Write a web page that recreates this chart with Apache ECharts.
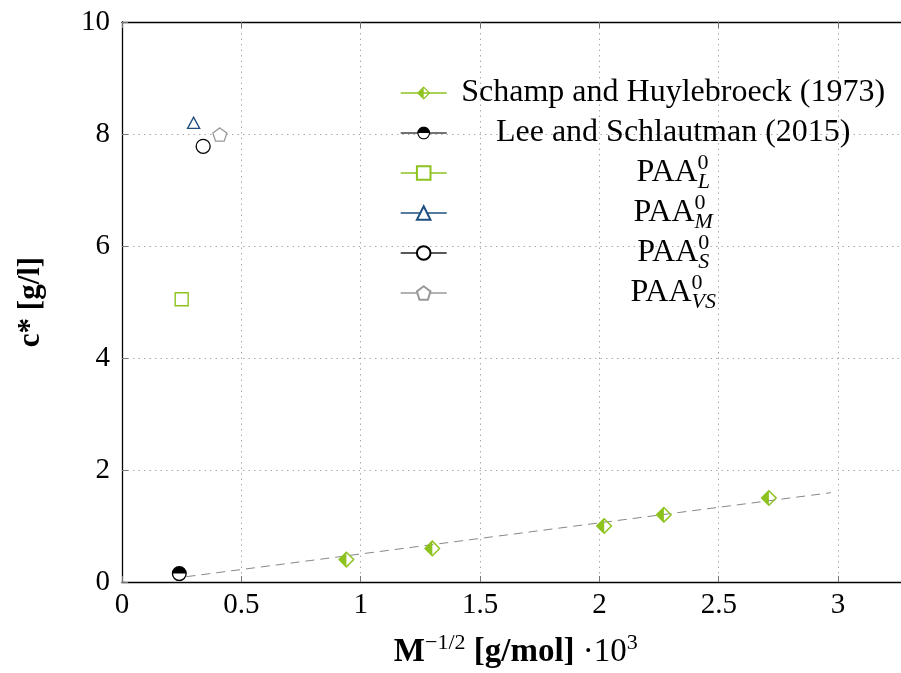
<!DOCTYPE html>
<html>
<head>
<meta charset="utf-8">
<script src="https://cdn.jsdelivr.net/npm/echarts@6/dist/echarts.min.js"></script>
<style>
  html, body { margin: 0; padding: 0; background: #fff; }
  #chart { width: 901px; height: 673px; }
</style>
</head>
<body>
<div id="chart"></div>
<script>
// Overlap concentration c* versus M^-1/2
const schampX = [0.94, 1.30, 2.02, 2.27, 2.71];
const schampY = [0.40, 0.60, 1.00, 1.20, 1.50];
const leeX = [0.24];
const leeY = [0.15];
const paaLX = [0.25];  const paaLY = [5.05];
const paaMX = [0.30];  const paaMY = [8.20];
const paaSX = [0.34];  const paaSY = [7.78];
const paaVSX = [0.41]; const paaVSY = [7.99];
const fitX = [0.27, 2.97];
const fitY = [0.095, 1.595];

const seriesNames = ['Schamp and Huylebroeck (1973)', 'Lee and Schlautman (2015)',
  'PAA_L', 'PAA_M', 'PAA_S', 'PAA_VS'];
const paaSubs = { PAA_L: 'L', PAA_M: 'M', PAA_S: 'S', PAA_VS: 'VS' };

const xMin = 0, xMax = 3.3, xStep = 0.5;
const yMin = 0, yMax = 10, yStep = 2;

const GREEN = '#8dc21f';
const BLUE = '#1f4f7f';
const GRAY = '#999999';
const FONT = '"Liberation Serif", "DejaVu Serif", serif';
const FS = 29;       // tick labels
const LFS = 32;      // legend text
const SUB_FS = 22;   // legend super/subscripts

function pts(xs, ys) { return xs.map((x, i) => [x, ys[i]]); }

function svgSymbol(svg) {
  return 'image://data:image/svg+xml;charset=utf-8,' + encodeURIComponent(svg);
}
const halfDiamond = svgSymbol(
  "<svg xmlns='http://www.w3.org/2000/svg' width='28' height='28' viewBox='0 0 28 28'>" +
  "<path d='M14 2 L2 14 L14 26 Z' fill='" + GREEN + "'/>" +
  "<path d='M14 2 L26 14 L14 26 L2 14 Z' fill='none' stroke='" + GREEN + "' stroke-width='2.4'/></svg>");
const halfCircle = svgSymbol(
  "<svg xmlns='http://www.w3.org/2000/svg' width='28' height='28' viewBox='0 0 28 28'>" +
  "<circle cx='14' cy='14' r='12' fill='#fff'/>" +
  "<path d='M2 14 A12 12 0 0 1 26 14 Z' fill='#000'/>" +
  "<circle cx='14' cy='14' r='12' fill='none' stroke='#000' stroke-width='2.4'/></svg>");
const pentagon = 'path://M0,-1 L0.951,-0.309 L0.588,0.809 L-0.588,0.809 L-0.951,-0.309 Z';

// text measurement for centring the legend labels in one column
const mctx = document.createElement('canvas').getContext('2d');
function textW(str, size, style) {
  mctx.font = (style || '') + ' ' + size + 'px ' + FONT;
  return mctx.measureText(str).width;
}
const COL_W = 443;

function padFor(name) {
  const sub = paaSubs[name];
  const w = textW('PAA', LFS) + Math.max(textW('0', SUB_FS), textW(sub, SUB_FS, 'italic'));
  return Math.max(0, (COL_W - w) / 2);
}
function legendLabel(name) {
  if (paaSubs[name]) {
    return '{pad| }{t|PAA}{sup|0}{sub|' + paaSubs[name] + '}';
  }
  return '{c|' + name + '}{sup| }{sub| }';
}

const chart = echarts.init(document.getElementById('chart'), null, { renderer: 'canvas' });

const lineColors = [GREEN, '#444', GREEN, BLUE, '#222', GRAY];
const legendData = seriesNames.map(function (n, i) {
  const item = { name: n, lineStyle: { color: lineColors[i], width: 1.4, opacity: 1, type: 'solid' } };
  if (paaSubs[n]) {
    item.textStyle = { rich: { pad: { width: padFor(n), fontSize: LFS, fontFamily: FONT } } };
  }
  return item;
});

const baseRich = {
  c: { width: COL_W, align: 'center', fontSize: LFS, fontFamily: FONT, color: '#000' },
  t: { fontSize: LFS, fontFamily: FONT, color: '#000' },
  sup: { fontSize: SUB_FS, fontFamily: FONT, color: '#000', width: 0.01, padding: [0, 0, 20, 0] },
  sub: { fontSize: SUB_FS, fontFamily: FONT, fontStyle: 'italic', color: '#000', padding: [18, 0, 0, 0] },
  pad: { fontSize: LFS, fontFamily: FONT }
};

const option = {
  backgroundColor: '#fff',
  animation: false,
  grid: {
    left: 122, top: 22, height: 560, width: (xMax - xMin) * 238.7,
    outerBoundsMode: 'none', containLabel: false
  },
  legend: {
    orient: 'vertical',
    left: 400,
    top: 72,
    padding: 0,
    itemGap: -1,
    itemWidth: 46,
    itemHeight: 17,
    selectedMode: false,
    data: legendData,
    formatter: legendLabel,
    textStyle: { fontFamily: FONT, fontSize: LFS, color: '#000', rich: baseRich }
  },
  xAxis: [{
    type: 'value', min: xMin, max: xMax, interval: xStep,
    position: 'bottom',
    name: '{b|M}{s|−1/2}{b| [g/mol]}{r| ·10}{s|3}',
    nameLocation: 'middle',
    nameGap: 50,
    nameTextStyle: {
      rich: {
        b: { fontFamily: FONT, fontSize: 33, fontWeight: 'bold', color: '#000' },
        r: { fontFamily: FONT, fontSize: 33, color: '#000' },
        s: { fontFamily: FONT, fontSize: 22, color: '#000', padding: [0, 0, 18, 0] }
      }
    },
    axisLine: { show: true, onZero: false, lineStyle: { color: '#000', width: 1.3 } },
    axisTick: { show: true, inside: true, length: 6, lineStyle: { color: '#777', width: 1 } },
    axisLabel: { fontFamily: FONT, fontSize: FS, color: '#000', margin: 9, showMaxLabel: false,
      formatter: function (v) { return v > 3.01 ? '' : String(v); } },
    splitLine: { show: true, lineStyle: { color: '#aaa', width: 1, type: [1.5, 4] } }
  }, {
    type: 'value', min: xMin, max: xMax, interval: xStep,
    position: 'top',
    axisLine: { show: true, onZero: false, lineStyle: { color: '#000', width: 1.3 } },
    axisTick: { show: true, inside: true, length: 6, lineStyle: { color: '#777', width: 1 } },
    axisLabel: { show: false },
    splitLine: { show: false }
  }],
  yAxis: {
    type: 'value', min: yMin, max: yMax, interval: yStep,
    name: 'c* [g/l]',
    nameLocation: 'middle',
    nameRotate: 90,
    nameGap: 76,
    nameTextStyle: { fontFamily: FONT, fontSize: 31, fontWeight: 'bold', color: '#000' },
    axisLine: { show: true, onZero: false, lineStyle: { color: '#000', width: 1.3 } },
    axisTick: { show: true, inside: true, length: 6, lineStyle: { color: '#777', width: 1 } },
    axisLabel: { fontFamily: FONT, fontSize: FS, color: '#000', margin: 12 },
    splitLine: { show: true, lineStyle: { color: '#aaa', width: 1, type: [1.5, 4] } }
  },
  series: [
    {
      name: 'fit', type: 'line', data: pts(fitX, fitY), showSymbol: false, symbol: 'none',
      lineStyle: { color: '#888', width: 1, type: [9, 6] }, z: 1, silent: true
    },
    {
      name: seriesNames[0], type: 'line', data: pts(schampX, schampY),
      symbol: halfDiamond, symbolSize: 17, showAllSymbol: true,
      lineStyle: { opacity: 0, width: 0 }, itemStyle: { color: GREEN }, z: 3
    },
    {
      name: seriesNames[1], type: 'line', data: pts(leeX, leeY),
      symbol: halfCircle, symbolSize: 16,
      lineStyle: { opacity: 0, width: 0 }, itemStyle: { color: '#000' }, z: 3
    },
    {
      name: seriesNames[2], type: 'line', data: pts(paaLX, paaLY),
      symbol: 'rect', symbolSize: 13,
      lineStyle: { opacity: 0, width: 0 },
      itemStyle: { color: '#fff', borderColor: GREEN, borderWidth: 1.4 }, z: 3
    },
    {
      name: seriesNames[3], type: 'line', data: pts(paaMX, paaMY),
      symbol: 'triangle', symbolSize: [12, 11],
      lineStyle: { opacity: 0, width: 0 },
      itemStyle: { color: '#fff', borderColor: BLUE, borderWidth: 1.4 }, z: 3
    },
    {
      name: seriesNames[4], type: 'line', data: pts(paaSX, paaSY),
      symbol: 'circle', symbolSize: 14,
      lineStyle: { opacity: 0, width: 0 },
      itemStyle: { color: '#fff', borderColor: '#000', borderWidth: 1.3 }, z: 3
    },
    {
      name: seriesNames[5], type: 'line', data: pts(paaVSX, paaVSY),
      symbol: pentagon, symbolSize: 14, symbolKeepAspect: true,
      lineStyle: { opacity: 0, width: 0 },
      itemStyle: { color: '#fff', borderColor: GRAY, borderWidth: 1.3 }, z: 3
    }
  ]
};

chart.setOption(option);
</script>
</body>
</html>
